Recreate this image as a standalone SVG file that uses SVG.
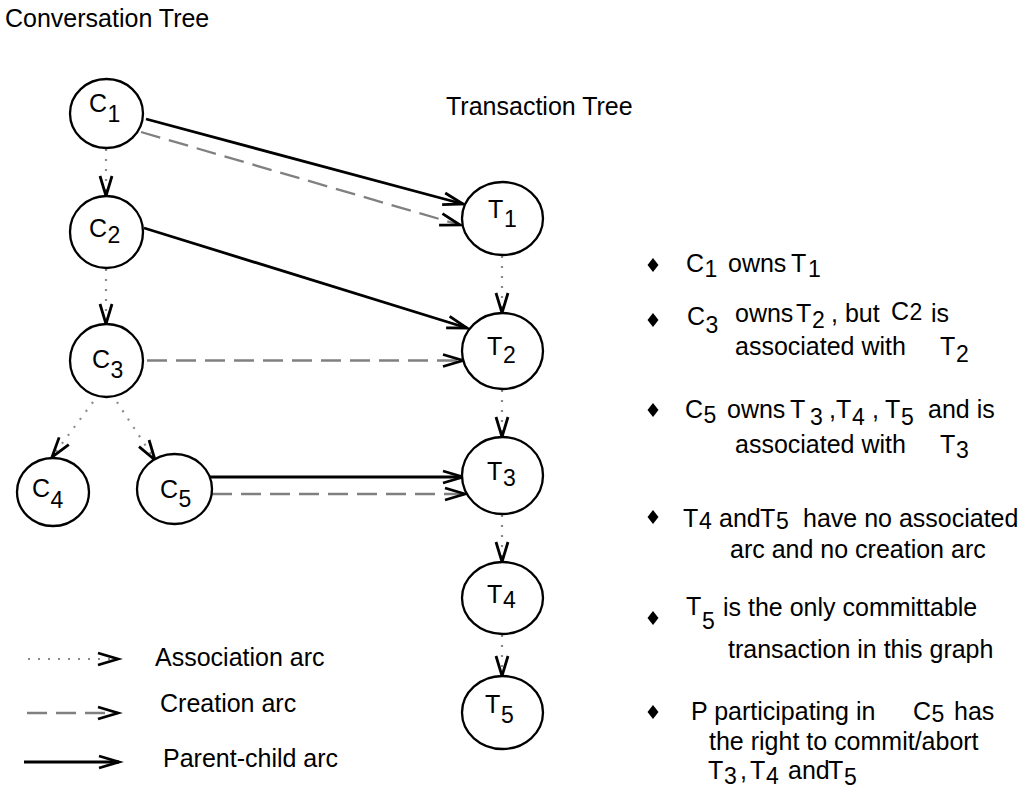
<svg xmlns="http://www.w3.org/2000/svg" width="1023" height="790" viewBox="0 0 1023 790">
<style>
text{font-family:"Liberation Sans",Arial,sans-serif;font-size:25px;fill:#000}
.sub{font-size:23px}
.node ellipse{fill:#fff;stroke:#000;stroke-width:2.3}
.assoc{stroke:#8a8a8a;stroke-width:2.2;stroke-dasharray:2 8;fill:none}
.creat{stroke:#808080;stroke-width:2.3;stroke-dasharray:20 9;fill:none}
.parent{stroke:#000;stroke-width:2.8;fill:none}
.bullet{fill:#000}
</style>
<defs>
<marker id="ah" markerWidth="24" markerHeight="14" refX="0" refY="0" orient="auto" markerUnits="userSpaceOnUse" style="overflow:visible">
<path d="M-20,-6 L0,0 L-20,6" fill="none" stroke="#000" stroke-width="2.8"/>
</marker>
</defs>
<rect width="1023" height="790" fill="#fff"/>
<text x="5" y="27">Conversation Tree</text>
<text x="446" y="115">Transaction Tree</text>

<g id="connectors">
<line class="assoc" x1="106" y1="149" x2="106" y2="196" marker-end="url(#ah)"/>
<line class="assoc" x1="106" y1="269" x2="106" y2="324" marker-end="url(#ah)"/>
<line class="assoc" x1="93" y1="402" x2="52" y2="457" marker-end="url(#ah)"/>
<line class="assoc" x1="117" y1="402" x2="155" y2="460" marker-end="url(#ah)"/>
<line class="assoc" x1="502" y1="256" x2="502" y2="313" marker-end="url(#ah)"/>
<line class="assoc" x1="502" y1="390" x2="502" y2="437" marker-end="url(#ah)"/>
<line class="assoc" x1="502" y1="515" x2="502" y2="562" marker-end="url(#ah)"/>
<line class="assoc" x1="502" y1="635" x2="502" y2="676" marker-end="url(#ah)"/>
<line class="parent" x1="146" y1="119" x2="463" y2="204" marker-end="url(#ah)"/>
<line class="creat" x1="141" y1="132" x2="460" y2="225" marker-end="url(#ah)"/>
<line class="parent" x1="144" y1="228" x2="467" y2="328" marker-end="url(#ah)"/>
<line class="creat" x1="147" y1="360.5" x2="463" y2="360.5" marker-end="url(#ah)"/>
<line class="parent" x1="210" y1="477" x2="463" y2="477" marker-end="url(#ah)"/>
<line class="creat" x1="212" y1="494" x2="465" y2="494" marker-end="url(#ah)"/>
</g>

<g id="C1" class="node"><ellipse cx="106.5" cy="113.5" rx="36.5" ry="34.5"/><text x="89" y="112">C<tspan class="sub" x="107.5" y="122">1</tspan></text></g>
<g id="C2" class="node"><ellipse cx="106.5" cy="232" rx="36.5" ry="36"/><text x="89" y="237">C<tspan class="sub" x="107.5" y="243">2</tspan></text></g>
<g id="C3" class="node"><ellipse cx="106.5" cy="360.5" rx="36.5" ry="36.5"/><text x="92" y="368">C<tspan class="sub" x="110.5" y="378">3</tspan></text></g>
<g id="C4" class="node"><ellipse cx="53" cy="492" rx="36" ry="34"/><text x="32" y="497">C<tspan class="sub" x="50.5" y="508">4</tspan></text></g>
<g id="C5" class="node"><ellipse cx="174.5" cy="489" rx="37.5" ry="35"/><text x="160" y="498">C<tspan class="sub" x="178.5" y="507">5</tspan></text></g>

<g id="T1" class="node"><ellipse cx="502.5" cy="218.5" rx="40.5" ry="36.5"/><text x="488" y="218">T<tspan class="sub" x="504" y="227">1</tspan></text></g>
<g id="T2" class="node"><ellipse cx="502.5" cy="351" rx="40.5" ry="38"/><text x="487" y="355">T<tspan class="sub" x="503" y="363">2</tspan></text></g>
<g id="T3" class="node"><ellipse cx="502.5" cy="475.5" rx="40.5" ry="38.5"/><text x="487" y="480">T<tspan class="sub" x="503" y="486">3</tspan></text></g>
<g id="T4" class="node"><ellipse cx="502.5" cy="598" rx="40.5" ry="36"/><text x="487" y="603">T<tspan class="sub" x="503" y="608">4</tspan></text></g>
<g id="T5" class="node"><ellipse cx="502.5" cy="712.5" rx="40.5" ry="36.5"/><text x="485" y="713">T<tspan class="sub" x="501" y="723">5</tspan></text></g>

<g id="legend">
<line class="assoc" x1="28" y1="659" x2="118" y2="659" marker-end="url(#ah)"/>
<text x="155" y="666">Association arc</text>
<line class="creat" x1="27" y1="713" x2="118" y2="713" marker-end="url(#ah)"/>
<text x="160" y="712">Creation arc</text>
<line class="parent" x1="24" y1="762" x2="119" y2="762" marker-end="url(#ah)"/>
<text x="163" y="767">Parent-child  arc</text>
</g>

<g id="notes">
<path class="bullet" d="M653,258 L658.5,265 L653,272 L647.5,265 Z"/>
<text y="272"><tspan x="686">C</tspan><tspan class="sub" x="704.5" y="277">1</tspan><tspan x="728" y="272">owns</tspan><tspan x="791" y="272">T</tspan><tspan class="sub" x="808" y="277">1</tspan></text>

<path class="bullet" d="M653,313 L658.5,320 L653,327 L647.5,320 Z"/>
<text y="325"><tspan x="687">C</tspan><tspan class="sub" x="705.5" y="333">3</tspan><tspan x="735" y="322">owns</tspan><tspan x="796" y="322">T</tspan><tspan class="sub" x="812" y="328">2</tspan><tspan x="831" y="322">, but</tspan><tspan x="891" y="320">C</tspan><tspan class="sub" x="909.5" y="320">2</tspan><tspan x="931" y="322">is</tspan></text>
<text y="355"><tspan x="735">associated with</tspan><tspan x="940" y="355">T</tspan><tspan class="sub" x="956" y="362">2</tspan></text>

<path class="bullet" d="M653,403 L658.5,410 L653,417 L647.5,410 Z"/>
<text y="418"><tspan x="685">C</tspan><tspan class="sub" x="703.5" y="423">5</tspan><tspan x="727" y="418">owns</tspan><tspan x="790" y="418">T</tspan><tspan class="sub" x="810" y="425">3</tspan><tspan x="829" y="418">,</tspan><tspan x="836" y="418">T</tspan><tspan class="sub" x="852" y="425">4</tspan><tspan x="872" y="418">,</tspan><tspan x="885" y="418">T</tspan><tspan class="sub" x="901" y="425">5</tspan><tspan x="928" y="418">and is</tspan></text>
<text y="453"><tspan x="735">associated with</tspan><tspan x="940" y="453">T</tspan><tspan class="sub" x="956" y="458">3</tspan></text>

<path class="bullet" d="M653,510 L658.5,517 L653,524 L647.5,517 Z"/>
<text y="527"><tspan x="683">T</tspan><tspan class="sub" x="699" y="529">4</tspan><tspan x="719" y="527">and</tspan><tspan x="760" y="527">T</tspan><tspan class="sub" x="776" y="529">5</tspan><tspan x="803" y="527">have no associated</tspan></text>
<text x="730" y="558">arc and no creation arc</text>

<path class="bullet" d="M653,611 L658.5,618 L653,625 L647.5,618 Z"/>
<text y="615"><tspan x="686">T</tspan><tspan class="sub" x="702" y="629">5</tspan><tspan x="723" y="616">is the only committable</tspan></text>
<text x="728" y="658">transaction in this graph</text>

<path class="bullet" d="M653,705 L658.5,712 L653,719 L647.5,712 Z"/>
<text y="720"><tspan x="691">P participating in</tspan><tspan x="913" y="720">C</tspan><tspan class="sub" x="931.5" y="722">5</tspan><tspan x="954" y="720">has</tspan></text>
<text x="709" y="750">the right to commit/abort</text>
<text y="779"><tspan x="708">T</tspan><tspan class="sub" x="724" y="784">3</tspan><tspan x="740" y="779">,</tspan><tspan x="750" y="779">T</tspan><tspan class="sub" x="766" y="784">4</tspan><tspan x="788" y="779">and</tspan><tspan x="828" y="779">T</tspan><tspan class="sub" x="844" y="785">5</tspan></text>
</g>
</svg>
